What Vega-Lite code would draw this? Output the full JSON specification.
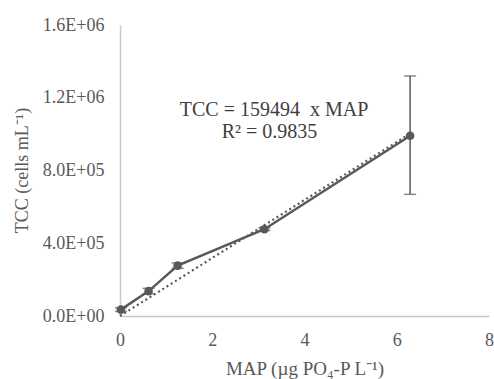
{
  "$schema": "https://vega.github.io/schema/vega-lite/v6.json",
  "width": 369,
  "height": 291,
  "autosize": "none",
  "padding": {"left": 120, "top": 25, "right": 5, "bottom": 63},
  "background": "white",
  "config": {
    "view": {"stroke": null},
    "font": "Liberation Serif, Times New Roman, serif",
    "axis": {
      "grid": false,
      "ticks": false,
      "labelFlush": false,
      "domainColor": "#c8c8c8",
      "domainWidth": 1.5,
      "labelFont": "Liberation Serif, Times New Roman, serif",
      "labelFontSize": 18,
      "labelColor": "#595959",
      "titleFont": "Liberation Serif, Times New Roman, serif",
      "titleFontSize": 18,
      "titleFontWeight": "normal",
      "titleColor": "#595959"
    }
  },
  "datasets": {
    "obs": [
      {"MAP": 0.02, "TCC": 35000, "lo": 25000, "hi": 45000},
      {"MAP": 0.62, "TCC": 137000, "lo": 122000, "hi": 152000},
      {"MAP": 1.25, "TCC": 277000, "lo": 262000, "hi": 292000},
      {"MAP": 3.13, "TCC": 477000, "lo": 470000, "hi": 484000},
      {"MAP": 6.29, "TCC": 991000, "lo": 669000, "hi": 1320000}
    ],
    "trend": [
      {"MAP": 0, "TCC": 0},
      {"MAP": 6.29, "TCC": 1003217}
    ],
    "notes": [
      {"MAP": 3.34, "TCC": 1130000, "label": "TCC = 159494\u00a0 x MAP"},
      {"MAP": 3.24, "TCC": 1010000, "label": "R² = 0.9835"}
    ]
  },
  "layer": [
    {
      "data": {"name": "trend"},
      "mark": {"type": "line", "color": "#595959", "strokeWidth": 2.2, "strokeDash": [2, 3]},
      "encoding": {
        "x": {"field": "MAP", "type": "quantitative",
          "scale": {"domain": [0, 8], "nice": false},
          "axis": {"values": [0, 2, 4, 6, 8], "labelPadding": 15,
            "title": "MAP (µg PO₄-P L⁻¹)", "titleFontSize": 19, "titleY": 52, "titleBaseline": "middle"}},
        "y": {"field": "TCC", "type": "quantitative",
          "scale": {"domain": [0, 1600000], "nice": false},
          "axis": {"values": [0, 400000, 800000, 1200000, 1600000],
            "labelExpr": "replace(format(datum.value, '.1e'), 'e+', 'E+0')",
            "labelPadding": 16,
            "title": "TCC (cells mL⁻¹)", "titleX": -98, "titleY": 145,
            "titleAlign": "center", "titleBaseline": "middle", "titleAngle": -90}}
      }
    },
    {
      "data": {"name": "obs"},
      "mark": {"type": "errorbar", "color": "#595959", "ticks": {"size": 12, "thickness": 1.5}, "rule": {"strokeWidth": 1.5}},
      "encoding": {
        "x": {"field": "MAP", "type": "quantitative", "title": "MAP (µg PO₄-P L⁻¹)"},
        "y": {"field": "lo", "type": "quantitative", "title": "TCC (cells mL⁻¹)"},
        "y2": {"field": "hi"}
      }
    },
    {
      "data": {"name": "obs"},
      "mark": {"type": "line", "color": "#595959", "strokeWidth": 2.5,
        "point": {"filled": true, "size": 75, "color": "#595959"}},
      "encoding": {
        "x": {"field": "MAP", "type": "quantitative", "title": "MAP (µg PO₄-P L⁻¹)"},
        "y": {"field": "TCC", "type": "quantitative", "title": "TCC (cells mL⁻¹)"},
        "order": {"field": "MAP"}
      }
    },
    {
      "data": {"name": "notes"},
      "mark": {"type": "text", "font": "Liberation Serif, Times New Roman, serif", "fontSize": 20, "color": "#404040", "align": "center", "baseline": "middle"},
      "encoding": {
        "x": {"field": "MAP", "type": "quantitative", "title": "MAP (µg PO₄-P L⁻¹)"},
        "y": {"field": "TCC", "type": "quantitative", "title": "TCC (cells mL⁻¹)"},
        "text": {"field": "label"}
      }
    }
  ]
}
